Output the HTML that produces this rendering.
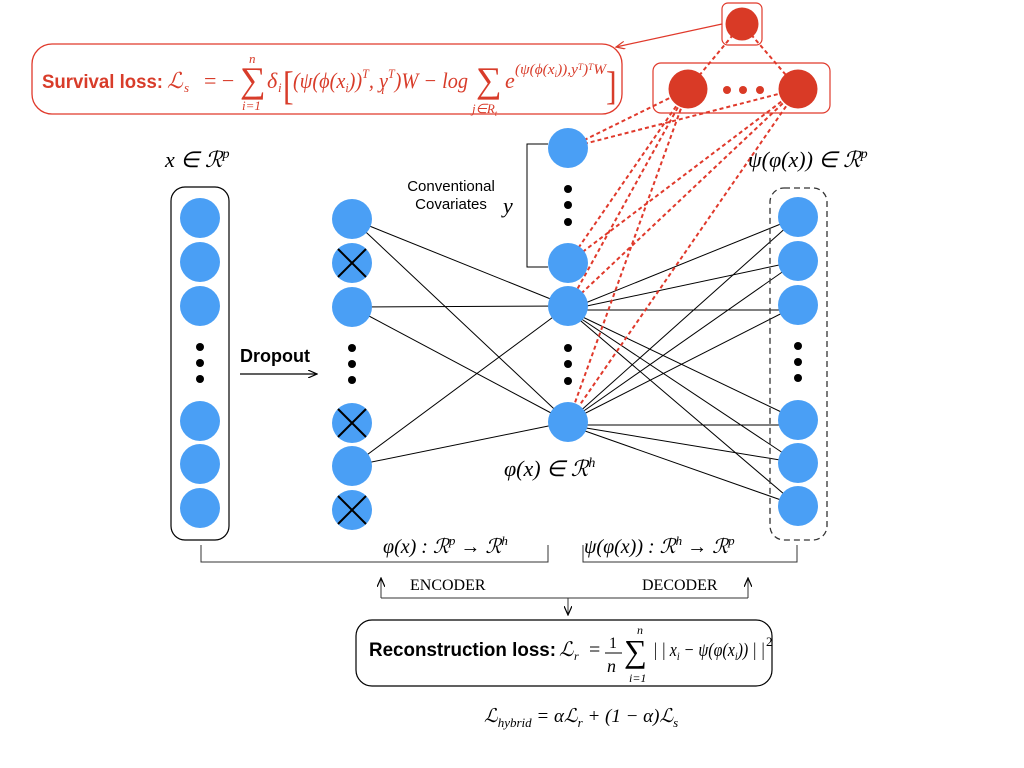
<!DOCTYPE html>
<html><head><meta charset="utf-8"><style>
body{margin:0;background:#fff}
svg{display:block}
.m{font-family:"Liberation Serif",serif;font-style:italic}
.r{font-family:"Liberation Serif",serif}
.s{font-family:"Liberation Sans",sans-serif}
</style></head><body>
<svg width="1024" height="768" viewBox="0 0 1024 768" xmlns="http://www.w3.org/2000/svg">
<defs>
<marker id="ar" markerWidth="10" markerHeight="8" refX="9" refY="4" orient="auto" markerUnits="userSpaceOnUse"><path d="M0,0 L9,4 L0,8" fill="none" stroke="#000" stroke-width="1.2"/></marker>
<marker id="ar2" markerWidth="10" markerHeight="8" refX="9" refY="4" orient="auto" markerUnits="userSpaceOnUse"><path d="M0,0 L9,4 L0,8" fill="none" stroke="#d83c2a" stroke-width="1.2"/></marker>
</defs>
<g stroke="#000" stroke-width="1">
<line x1="352" y1="219" x2="568" y2="306"/><line x1="352" y1="219" x2="568" y2="422"/>
<line x1="352" y1="307" x2="568" y2="306"/><line x1="352" y1="307" x2="568" y2="422"/>
<line x1="352" y1="466" x2="568" y2="306"/><line x1="352" y1="466" x2="568" y2="422"/>
<line x1="568" y1="310" x2="798" y2="217"/><line x1="568" y1="310" x2="798" y2="261"/><line x1="568" y1="310" x2="798" y2="310"/>
<line x1="568" y1="310" x2="798" y2="420"/><line x1="568" y1="310" x2="798" y2="463"/><line x1="568" y1="310" x2="798" y2="506"/>
<line x1="568" y1="422" x2="798" y2="217"/><line x1="568" y1="422" x2="798" y2="261"/><line x1="568" y1="422" x2="798" y2="305"/>
<line x1="568" y1="425" x2="798" y2="425"/><line x1="568" y1="425" x2="798" y2="463"/><line x1="568" y1="425" x2="798" y2="506"/>
</g>
<g stroke="#e0392b" stroke-width="2" stroke-dasharray="4,3" fill="none">
<line x1="742" y1="24" x2="688" y2="89"/><line x1="742" y1="24" x2="798" y2="89"/>
<line x1="688" y1="89" x2="568" y2="148"/><line x1="688" y1="89" x2="568" y2="263"/><line x1="688" y1="89" x2="568" y2="306"/><line x1="688" y1="89" x2="568" y2="422"/>
<line x1="798" y1="89" x2="568" y2="148"/><line x1="798" y1="89" x2="568" y2="263"/><line x1="798" y1="89" x2="568" y2="306"/><line x1="798" y1="89" x2="568" y2="422"/>
</g>
<rect x="722" y="3" width="40" height="42" rx="6" fill="none" stroke="#e0392b" stroke-width="1.2"/>
<circle cx="742" cy="24" r="16.5" fill="#d93a26"/>
<rect x="653" y="63" width="177" height="50" rx="8" fill="none" stroke="#e0392b" stroke-width="1.2"/>
<circle cx="688" cy="89" r="19.5" fill="#d93a26"/><circle cx="798" cy="89" r="19.5" fill="#d93a26"/>
<circle cx="727" cy="90" r="4" fill="#d93a26"/><circle cx="743" cy="90" r="4" fill="#d93a26"/><circle cx="760" cy="90" r="4" fill="#d93a26"/>
<line x1="722" y1="24" x2="616" y2="47" stroke="#e0392b" stroke-width="1.2" marker-end="url(#ar2)"/>
<rect x="32" y="44" width="590" height="70" rx="20" fill="none" stroke="#e0392b" stroke-width="1.3"/>
<g fill="#d83c2a">
<text class="s" x="42" y="88" font-weight="bold" font-size="19" textLength="121" lengthAdjust="spacingAndGlyphs">Survival loss:</text>
<text class="m" x="167" y="88" font-size="22">ℒ</text><text class="m" x="184" y="92" font-size="13">s</text>
<text class="r" x="204" y="88" font-size="22">= −</text>
<text class="r" x="240" y="92" font-size="36">∑</text>
<text class="m" x="249" y="63" font-size="13">n</text>
<text class="m" x="242" y="110" font-size="13">i=1</text>
<text class="m" x="267" y="88" font-size="22">δ</text><text class="m" x="278" y="92" font-size="13">i</text>
<text class="r" x="283" y="99" font-size="32" transform="translate(283 99) scale(1 1.25) translate(-283 -99)">[</text>
<text class="m" x="293" y="88" font-size="22" textLength="175" lengthAdjust="spacingAndGlyphs">(ψ(ϕ(x<tspan font-size="13" dy="4">i</tspan><tspan dy="-4">))</tspan><tspan font-size="13" dy="-10">T</tspan><tspan dy="10">, y</tspan><tspan font-size="13" dy="-10">T</tspan><tspan dy="10">)W − log</tspan></text>
<text class="m" x="381" y="94" font-size="13">i</text>
<text class="r" x="476" y="92" font-size="36">∑</text>
<text class="m" x="472" y="113" font-size="13">j∈R<tspan font-size="8" dy="3">t</tspan></text>
<text class="m" x="505" y="88" font-size="22">e</text>
<text class="m" x="515" y="74" font-size="15" textLength="91" lengthAdjust="spacingAndGlyphs">(ψ(ϕ(x<tspan font-size="9" dy="3">i</tspan><tspan dy="-3">)),y</tspan><tspan font-size="9" dy="-4">T</tspan><tspan dy="4">)</tspan><tspan font-size="9" dy="-4">T</tspan><tspan dy="4">W</tspan></text>
<text class="r" x="606" y="99" font-size="32" transform="translate(606 99) scale(1 1.25) translate(-606 -99)">]</text>
</g>
<rect x="171" y="187" width="58" height="353" rx="14" fill="none" stroke="#000" stroke-width="1.2"/>
<g fill="#4a9ff5">
<circle cx="200" cy="218" r="20"/><circle cx="200" cy="262" r="20"/><circle cx="200" cy="306" r="20"/>
<circle cx="200" cy="421" r="20"/><circle cx="200" cy="464" r="20"/><circle cx="200" cy="508" r="20"/>
<circle cx="352" cy="219" r="20"/><circle cx="352" cy="263" r="20"/><circle cx="352" cy="307" r="20"/>
<circle cx="352" cy="423" r="20"/><circle cx="352" cy="466" r="20"/><circle cx="352" cy="510" r="20"/>
<circle cx="568" cy="148" r="20"/><circle cx="568" cy="263" r="20"/><circle cx="568" cy="306" r="20"/><circle cx="568" cy="422" r="20"/>
<circle cx="798" cy="217" r="20"/><circle cx="798" cy="261" r="20"/><circle cx="798" cy="305" r="20"/>
<circle cx="798" cy="420" r="20"/><circle cx="798" cy="463" r="20"/><circle cx="798" cy="506" r="20"/>
</g>
<g stroke="#000" stroke-width="2">
<path d="M338,249 L366,277 M366,249 L338,277"/>
<path d="M338,409 L366,437 M366,409 L338,437"/>
<path d="M338,496 L366,524 M366,496 L338,524"/>
</g>
<g fill="#000">
<circle cx="200" cy="347" r="4"/><circle cx="200" cy="363" r="4"/><circle cx="200" cy="379" r="4"/>
<circle cx="352" cy="348" r="4"/><circle cx="352" cy="364" r="4"/><circle cx="352" cy="380" r="4"/>
<circle cx="568" cy="189" r="4"/><circle cx="568" cy="205" r="4"/><circle cx="568" cy="222" r="4"/>
<circle cx="568" cy="348" r="4"/><circle cx="568" cy="364" r="4"/><circle cx="568" cy="381" r="4"/>
<circle cx="798" cy="346" r="4"/><circle cx="798" cy="362" r="4"/><circle cx="798" cy="378" r="4"/>
</g>
<rect x="770" y="188" width="57" height="352" rx="14" fill="none" stroke="#333" stroke-width="1.3" stroke-dasharray="6,4"/>
<path d="M548,144 L527,144 L527,267 L548,267" fill="none" stroke="#000" stroke-width="1"/>
<text class="s" x="451" y="191" font-size="15" text-anchor="middle">Conventional</text>
<text class="s" x="451" y="209" font-size="15" text-anchor="middle">Covariates</text>
<text class="m" x="503" y="213" font-size="22">y</text>
<text class="s" x="240" y="362" font-size="18" font-weight="bold">Dropout</text>
<line x1="240" y1="374" x2="317" y2="374" stroke="#000" stroke-width="1.3" marker-end="url(#ar)"/>
<text class="m" x="165" y="167" font-size="22">x ∈ ℛ<tspan font-size="14" dy="-9">p</tspan></text>
<text class="m" x="748" y="167" font-size="22">ψ(φ(x)) ∈ ℛ<tspan font-size="14" dy="-9">p</tspan></text>
<text class="m" x="504" y="476" font-size="22">φ(x) ∈ ℛ<tspan font-size="14" dy="-9">h</tspan></text>
<text class="m" x="383" y="553" font-size="20">φ(x) : ℛ<tspan font-size="13" dy="-8">p</tspan><tspan dy="8"> → ℛ</tspan><tspan font-size="13" dy="-8">h</tspan></text>
<text class="m" x="584" y="553" font-size="20">ψ(φ(x)) : ℛ<tspan font-size="13" dy="-8">h</tspan><tspan dy="8"> → ℛ</tspan><tspan font-size="13" dy="-8">p</tspan></text>
<g stroke="#333" stroke-width="1" fill="none">
<path d="M201,545 L201,562 L548,562 L548,545"/>
<path d="M583,545 L583,562 L797,562 L797,545"/>
<line x1="381" y1="598" x2="748" y2="598"/>
<line x1="381" y1="598" x2="381" y2="578" marker-end="url(#ar)"/>
<line x1="748" y1="598" x2="748" y2="578" marker-end="url(#ar)"/>
<line x1="568" y1="598" x2="568" y2="615" marker-end="url(#ar)"/>
</g>
<text x="410" y="590" font-family="Liberation Serif" font-size="16">ENCODER</text>
<text x="642" y="590" font-family="Liberation Serif" font-size="16">DECODER</text>
<rect x="356" y="620" width="416" height="66" rx="16" fill="none" stroke="#000" stroke-width="1.2"/>
<text class="s" x="369" y="656" font-weight="bold" font-size="19" textLength="187" lengthAdjust="spacingAndGlyphs">Reconstruction loss:</text>
<text class="m" x="559" y="656" font-size="20">ℒ</text><text class="m" x="574" y="660" font-size="12">r</text>
<text class="r" x="589" y="656" font-size="20">=</text>
<text class="r" x="609" y="648" font-size="16">1</text>
<line x1="605" y1="653" x2="622" y2="653" stroke="#000" stroke-width="1"/>
<text class="m" x="607" y="672" font-size="18">n</text>
<text class="r" x="624" y="662" font-size="32">∑</text>
<text class="m" x="637" y="634" font-size="12">n</text>
<text class="m" x="629" y="682" font-size="12">i=1</text>
<text class="m" x="653" y="656" font-size="19" textLength="112" lengthAdjust="spacingAndGlyphs">| | x<tspan font-size="12" dy="4">i</tspan><tspan dy="-4"> − ψ(φ(x</tspan><tspan font-size="12" dy="4">i</tspan><tspan dy="-4">)) | |</tspan></text>
<text class="r" x="766" y="646" font-size="13">2</text>
<text class="m" x="484" y="722" font-size="19">ℒ<tspan font-size="13" dy="5">hybrid</tspan><tspan dy="-5"> = αℒ</tspan><tspan font-size="13" dy="5">r</tspan><tspan dy="-5"> + (1 − α)ℒ</tspan><tspan font-size="13" dy="5">s</tspan></text>
</svg>
</body></html>
